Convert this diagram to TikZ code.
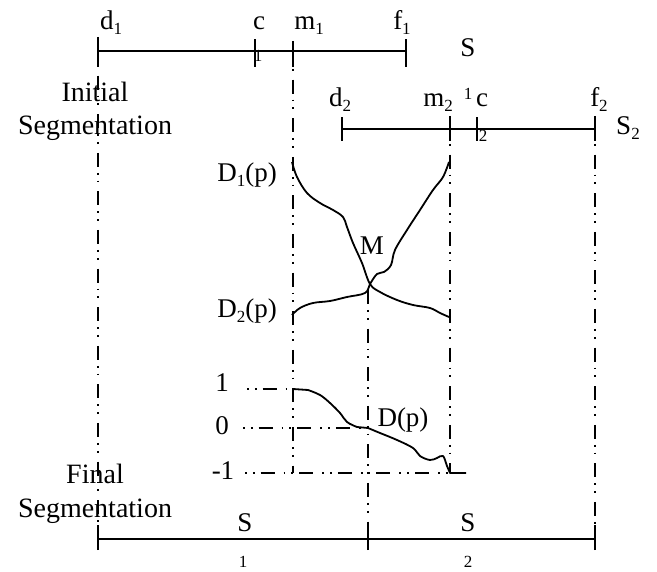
\documentclass[tikz,border=0pt]{standalone}
\usepackage{fontspec}
\setmainfont{Liberation Serif}
\newcommand\lbsub[1]{\raisebox{-0.15em}{\fontsize{17}{17}\selectfont #1}}
\tikzset{
  seg/.style={line width=2pt},
  tickmark/.style={line width=2pt},
  ddot/.style={line width=1.6pt, dash pattern=on 14pt off 6pt on 1.8pt off 6pt on 1.8pt off 9pt},
  hdot/.style={line width=1.6pt, dash pattern=on 1.8pt off 6pt on 1.8pt off 6pt on 14pt off 9pt},
  curve/.style={line width=1.8pt, line join=round},
  lab/.style={font=\fontsize{27}{27}\selectfont, anchor=base, inner sep=0pt},
  big/.style={font=\fontsize{28}{28}\selectfont, anchor=base, inner sep=0pt},
  small/.style={font=\fontsize{17}{17}\selectfont, anchor=base, inner sep=0pt},
}
\begin{document}
\begin{tikzpicture}[x=1pt,y=-1pt]
\useasboundingbox (0,0) rectangle (657,572);
% coordinates of segment 1
\coordinate (d1) at (98,51);
\coordinate (c1) at (255,51);
\coordinate (m1) at (293,51);
\coordinate (f1) at (406,51);
% segment 2
\coordinate (d2) at (342,129);
\coordinate (m2) at (450,129);
\coordinate (c2) at (477,129);
\coordinate (f2) at (595,129);
% final
\coordinate (b1) at (98,539);
\coordinate (bm) at (368,539);
\coordinate (b2) at (595,539);
% level lines
\coordinate (l1a) at (247,389);
\coordinate (l1b) at (293,389);
\coordinate (l0a) at (243,428);
\coordinate (l0b) at (368,428);
\coordinate (lma) at (245,473);
\coordinate (lmb) at (466,473);
\coordinate (M) at (370,284);
\coordinate (m1low) at (293,473);
\coordinate (m2low) at (450,473);
\coordinate (Mtop) at (368,290);

% segment lines
\draw[seg] (d1) -- (f1);
\draw[seg] (d2) -- (f2);
\draw[seg] (b1) -- (b2);
\foreach \p in {d1,c1,f1}{\draw[tickmark] ([yshift=-16pt]\p) -- ([yshift=12pt]\p);}
\draw[tickmark] ([yshift=-16pt]m1) -- ([yshift=4pt]m1);
\foreach \p in {d2,m2,c2,f2}{\draw[tickmark] ([yshift=-12pt]\p) -- ([yshift=12pt]\p);}
\foreach \p in {b1,bm,b2}{\draw[tickmark] ([yshift=-11pt]\p) -- ([yshift=14pt]\p);}

% vertical dash-dot lines
\draw[ddot] ([yshift=14pt]d1) -- ([yshift=-11pt]b1);
\draw[ddot] ([yshift=10pt]m1) -- (m1low);
\draw[ddot] ([yshift=13pt]m2) -- (m2low);
\draw[ddot] ([yshift=13pt]f2) -- ([yshift=-11pt]b2);
\draw[ddot] (Mtop) -- ([yshift=-11pt]bm);

% level lines
\draw[hdot] (l1a) -- (l1b);
\draw[hdot] (l0a) -- (l0b);
\draw[hdot] (lma) -- (lmb);

% curves
\draw[curve] plot[smooth, tension=0.6] coordinates {(292,162) (297,177) (307,193) (320,203) (333,210) (343,217) (347,227) (353,243) (362,263) (370,284) (380,292) (397,300) (413,305) (430,308) (440,313) (449,317)};
\draw[curve] plot[smooth, tension=0.6] coordinates {(449,162) (443,177) (433,190) (420,210) (407,230) (395,250) (391,265) (384,272) (377,274) (370,284) (365,293) (347,297) (330,301) (313,303) (300,308) (292,315)};
\draw[curve] (l1b) -- (308,390) plot[smooth, tension=0.6] coordinates {(308,390) (320,395) (330,403) (340,413) (347,422) (357,427)} -- (l0b);
\draw[curve] plot[smooth, tension=0.6] coordinates {(l0b) (380,433) (397,440) (413,448) (420,456) (430,460) (437,458) (443,456) (447,466) (450,473)} -- (lmb);

% labels top
\node[lab] (td1) at (111,30) {d\lbsub{1}};
\node[lab] (tc1) at (259,30) {c};
\node[small] (tc1s) at (258,62) {1};
\node[lab] (tm1) at (309,30) {m\lbsub{1}};
\node[lab] (tf1) at (402,30) {f\lbsub{1}};
\node[lab] (tS) at (468,57) {S};
\node[lab] (td2) at (340,107) {d\lbsub{2}};
\node[lab] (tm2) at (438,107) {m\lbsub{2}};
\node[small] (tsup) at (468,100) {1};
\node[lab] (tc2) at (482,107) {c};
\node[small] (tc2s) at (483,142) {2};
\node[lab] (tf2) at (599,107) {f\lbsub{2}};
\node[lab] (tS2) at (628,135) {S\lbsub{2}};
\node[big] (ini) at (95,102) {Initial};
\node[big] (seg1) at (95,135) {Segmentation};
\node[big] (fin) at (95,483) {Final};
\node[big] (seg2) at (95,518) {Segmentation};
% curve labels
\node[lab] (D1) at (247,182) {D\lbsub{1}(p)};
\node[lab] (D2) at (247,318) {D\lbsub{2}(p)};
\node[lab] (Ml) at (372,255) {M};
\node[lab] (Dp) at (403,427) {D(p)};
\node[lab] (v1) at (222,392) {1};
\node[lab] (v0) at (222,435) {0};
\node[lab] (vm) at (223,480) {-1};
% bottom labels
\node[lab] (S1b) at (245,531) {S};
\node[small] (S1s) at (243,567) {1};
\node[lab] (S2b) at (468,531) {S};
\node[small] (S2s) at (468,567) {2};
\end{tikzpicture}
\end{document}
